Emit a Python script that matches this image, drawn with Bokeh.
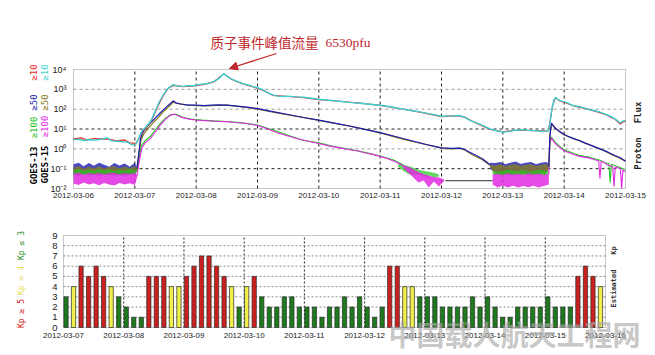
import math
from bokeh.plotting import figure
from bokeh.models import FixedTicker, Label, Arrow, NormalHead, Range1d, BoxAnnotation
from bokeh.layouts import column
from bokeh.embed import file_html
from bokeh.resources import INLINE

# ---------------- data ----------------
top_day_labels = ["2012-03-06", "2012-03-07", "2012-03-08", "2012-03-09", "2012-03-10",
                  "2012-03-11", "2012-03-12", "2012-03-13", "2012-03-14", "2012-03-15"]
bot_day_labels = ["2012-03-07", "2012-03-08", "2012-03-09", "2012-03-10", "2012-03-11",
                  "2012-03-12", "2012-03-13", "2012-03-14", "2012-03-15", "2012-03-16"]
flux_exponents = [-2, -1, 0, 1, 2, 3, 4]
flux_tick_labels = ["10⁻²", "10⁻¹", "10⁰", "10¹", "10²", "10³", "10⁴"]
flux_thresholds = [1, -1]          # darker dashed reference lines
flux_light_grid = [0, 2, 3]

# hours since 2012-03-06 00:00 UT, log10(pfu)
cyan_ge10 = [(0,0.45),(2,0.48),(4,0.42),(6,0.46),(8,0.44),(10,0.47),(12,0.5),(13,0.57),(15,0.4),(17,0.38),
             (19,0.36),(21,0.34),(23,0.2),(24.5,0.25),(25.3,0.45),(26,0.7),(27,0.95),(28,1.05),(29,1.2),
             (30.5,1.45),(32,1.9),(33.5,2.35),(35,2.7),(36.6,3.0),(38,3.15),(39,3.23),(41,3.16),(43,3.15),
             (45,3.18),(47,3.18),(49,3.24),(51,3.27),(53,3.3),(55,3.4),(57,3.55),(58.8,3.8),(60,3.66),
             (62,3.52),(64,3.4),(66,3.3),(68,3.23),(70,3.15),(72,3.08),(74,2.98),(76,2.82),(78,2.72),
             (80,2.66),(82,2.64),(84,2.66),(87,2.62),(90,2.6),(93,2.55),(96,2.5),(100,2.45),(104,2.4),
             (108,2.34),(112,2.3),(116,2.25),(120,2.2),(124,2.12),(128,2.03),(132,1.93),(136,1.85),
             (140,1.75),(144,1.64),(148,1.66),(151,1.68),(153,1.6),(155,1.45),(157,1.35),(160,1.18),
             (163,1.0),(166,0.9),(168,0.85),(170,0.87),(172,0.92),(174,0.95),(176,0.97),(178,0.93),
             (180,0.92),(182,0.9),(184,0.88),(185.8,0.9),(186.5,1.35),(187.2,2.0),(188,2.45),(188.6,2.6),
             (189.5,2.5),(190.5,2.42),(192,2.38),(193.5,2.3),(195,2.2),(196.5,2.16),(198,2.12),(200,2.05),
             (202,1.97),(204,1.92),(206,1.85),(208,1.75),(210,1.65),(212,1.5),(213,1.4),(214,1.3),
             (215,1.4),(216,1.42)]
red_ge10 = [(0,0.5),(3,0.55),(5,0.45),(8,0.52),(11,0.5),(14,0.48),(17,0.4),(20,0.45),(22,0.3),(24.5,0.28),
            (25.5,0.5),(27,0.9),(29,1.15),(31,1.55),(33,2.15),(35,2.65),(37,3.05),(39,3.2),(43,3.14),
            (47,3.17),(51,3.25),(55,3.38),(58.8,3.78),(62,3.5),(66,3.28),(70,3.14),(74,2.96),(78,2.7),
            (84,2.64),(90,2.58),(96,2.48),(104,2.4),(112,2.3),(120,2.19),(128,2.02),(136,1.84),(144,1.62),
            (150,1.67),(153,1.6),(157,1.33),(163,0.98),(168,0.86),(174,0.95),(180,0.92),(185.8,0.9),
            (186.6,1.5),(187.5,2.2),(188.6,2.58),(190.5,2.4),(193,2.3),(196,2.15),(200,2.04),(204,1.9),
            (208,1.74),(212,1.48),(214,1.25),(215,1.35),(216,1.4)]
blue_ge50 = [(24.8,-1.0),(25.5,-0.3),(26.2,0.5),(27,0.8),(28,1.0),(30,1.3),(32,1.55),(34,1.82),(36.6,2.14),
             (38,2.3),(39,2.42),(40,2.32),(42,2.26),(45,2.2),(48,2.2),(51,2.18),(54,2.2),(57,2.22),(60,2.2),
             (64,2.15),(68,2.1),(72,2.03),(78,1.88),(84,1.73),(90,1.58),(96,1.45),(102,1.3),(108,1.15),
             (114,0.98),(120,0.82),(126,0.62),(132,0.42),(138,0.22),(144,0.05),(148,0.02),(151,0.04),
             (152.5,0.0),(154.3,-0.12),(157,-0.3),(160,-0.5),(163,-0.8)]
blue_ge50_b = [(186,-0.9),(186.4,0.6),(187,1.3),(187.6,1.2),(188.5,1.05),(190,0.9),(192,0.72),(194,0.6),
               (196,0.5),(198,0.42),(200,0.3),(202,0.2),(204,0.1),(206,0.0),(208.7,-0.14),(210,-0.22),
               (212,-0.35),(214,-0.45),(215.3,-0.56),(216,-0.62)]
olive_ge50 = [(24.8,-1.1),(25.6,-0.2),(26.4,0.45),(27.5,0.75),(29,1.0),(31,1.3),(33,1.55),(35,1.85),(37,2.1),
              (39,2.35),(41,2.28),(44,2.22),(48,2.18),(52,2.17),(56,2.19),(60,2.2),(64,2.14),(68,2.08),
              (72,2.0),(80,1.8),(88,1.62),(96,1.43),(104,1.25),(112,1.04),(120,0.8),(128,0.52),(136,0.28),
              (144,0.03),(148,0.0),(151,0.03),(153,-0.05),(156,-0.3),(160,-0.55),(163,-0.82)]
olive_ge50_b = [(186,-0.9),(186.5,0.8),(187.2,1.25),(188,1.1),(190,0.88),(192,0.7),(195,0.55),(198,0.4),
                (201,0.25),(204,0.1),(207,-0.05),(210,-0.25),(213,-0.42),(216,-0.62)]
green_ge100 = [(24.8,-1.1),(25.5,-0.6),(26.5,0.15),(28,0.4),(30,0.62),(32,0.95),(34,1.28),(36,1.55),(38,1.72),
               (40,1.74),(43,1.58),(46,1.5),(50,1.45),(55,1.41),(60,1.38),(66,1.31),(72,1.2),(78,0.95),
               (84,0.68),(90,0.42),(96,0.3),(102,0.12),(108,-0.02),(114,-0.18),(120,-0.36),(125,-0.55),
               (129,-0.8)]
green_ge100_b = [(186,-1.0),(186.4,0.35),(187,0.6),(188,0.4),(190,0.15),(192,-0.05),(194,-0.15),(196,-0.25),
                 (198,-0.32),(200,-0.38),(202,-0.42),(204,-0.5),(206,-0.58),(208,-0.7),(209.5,-0.75),
                 (210,-1.7),(210.5,-0.78),(212,-0.85),(214,-0.95),(216,-1.05)]
magenta_ge100 = [(24.8,-1.4),(25.5,-0.8),(26.8,0.07),(28,0.3),(30,0.5),(32,0.85),(34,1.2),(36,1.5),(38,1.7),
                 (39.5,1.75),(42,1.6),(45,1.5),(48,1.45),(51,1.42),(54,1.4),(57,1.38),(60,1.37),(63,1.33),
                 (66,1.3),(69,1.25),(72,1.18),(76,1.0),(80,0.8),(84,0.65),(88,0.5),(92,0.38),(96,0.27),
                 (100,0.15),(104,0.05),(108,-0.05),(111,-0.1),(114,-0.2),(117,-0.28),(120,-0.38),(123,-0.5),
                 (126,-0.65),(129,-0.85),(131,-0.94),(135,-1.2),(140,-1.5)]
magenta_ge100_b = [(186,-1.3),(186.4,0.3),(187,0.55),(188,0.35),(189,0.2),(190,0.1),(192,-0.1),(194,-0.2),
                   (196,-0.3),(198,-0.38),(200,-0.42),(202,-0.47),(204,-0.55),(205.5,-0.6),(206,-1.5),
                   (206.5,-0.62),(208,-0.72),(208.7,-0.8),(210,-0.85),(211,-0.9),(211.5,-1.9),(212,-0.92),
                   (213,-0.95),(214,-1.0),(214.5,-2.0),(215,-1.05),(215.3,-1.1),(216,-1.15)]
flat_ge100 = [(145.5,-1.6),(164,-1.6)]

# background noise envelopes: (hour, low, high)
blue_bg = [[(0,-1.3,-0.78),(2,-1.35,-0.7),(4,-1.25,-0.88),(6,-1.32,-0.72),(8,-1.3,-0.85),(10,-1.36,-0.7),
            (12,-1.26,-0.8),(14,-1.33,-0.9),(16,-1.3,-0.72),(18,-1.28,-0.84),(20,-1.34,-0.74),
            (22,-1.3,-0.9),(24,-1.27,-0.7),(24.8,-1.1,-0.95)],
           [(163,-1.0,-0.7),(165,-1.2,-0.72),(167,-1.25,-0.66),(169,-1.22,-0.78),(171,-1.25,-0.7),
            (173,-1.2,-0.64),(175,-1.24,-0.76),(177,-1.25,-0.7),(179,-1.22,-0.66),(181,-1.25,-0.78),
            (183,-1.2,-0.7),(185,-1.22,-0.66),(186,-1.0,-0.75)]]
olive_bg = [[(0,-1.3,-0.95),(2,-1.33,-0.88),(4,-1.3,-1.0),(6,-1.28,-0.9),(8,-1.32,-0.98),(10,-1.3,-0.88),
             (12,-1.3,-0.99),(14,-1.33,-0.92),(16,-1.29,-0.88),(18,-1.3,-0.98),(20,-1.32,-0.9),
             (22,-1.3,-0.97),(24,-1.28,-0.88),(24.8,-1.1,-1.0)],
            [(163,-0.9,-0.8),(165,-1.3,-0.84),(167,-1.32,-0.76),(169,-1.3,-0.88),(171,-1.33,-0.8),
             (173,-1.3,-0.76),(175,-1.32,-0.86),(177,-1.3,-0.8),(179,-1.33,-0.76),(181,-1.3,-0.86),
             (183,-1.32,-0.8),(185,-1.3,-0.76),(186,-0.95,-0.85)]]
green_bg = [[(0,-1.32,-1.08),(2,-1.35,-1.02),(4,-1.3,-1.12),(6,-1.34,-1.04),(8,-1.3,-1.1),(10,-1.35,-1.02),
             (12,-1.32,-1.1),(14,-1.3,-1.03),(16,-1.34,-1.12),(18,-1.32,-1.04),(20,-1.35,-1.1),
             (22,-1.3,-1.02),(24,-1.32,-1.08),(24.8,-1.15,-1.1)],
            [(127,-0.9,-0.75),(129,-1.1,-0.8),(131,-1.25,-0.85),(133,-1.35,-0.95),(135,-1.3,-1.05),
             (137,-1.4,-1.1),(139,-1.35,-1.15),(141,-1.45,-1.2),(143,-1.4,-1.3)],
            [(164,-1.3,-1.1),(167,-1.32,-1.14),(170,-1.3,-1.06),(173,-1.34,-1.12),(176,-1.3,-1.08),
             (179,-1.33,-1.14),(182,-1.3,-1.06),(185,-1.32,-1.12),(186,-1.2,-1.12)]]
magenta_bg = [[(0,-1.75,-1.25),(2,-1.82,-1.2),(4,-1.7,-1.3),(6,-1.8,-1.22),(8,-1.74,-1.27),(10,-1.84,-1.2),
               (12,-1.72,-1.28),(14,-1.8,-1.22),(16,-1.85,-1.2),(18,-1.72,-1.28),(20,-1.8,-1.22),
               (22,-1.74,-1.27),(24,-1.82,-1.2),(24.8,-1.5,-1.32)],
              [(129,-0.95,-0.85),(131,-1.2,-0.95),(133,-1.45,-1.08),(135,-1.7,-1.2),(137,-1.6,-1.3),
               (139,-1.95,-1.35),(141,-1.65,-1.42),(143,-1.9,-1.45),(145,-1.62,-1.55)],
              [(164,-1.8,-1.3),(166,-1.95,-1.25),(168,-1.85,-1.32),(170,-1.95,-1.22),(172,-1.86,-1.3),
               (174,-1.95,-1.24),(176,-1.88,-1.32),(178,-1.94,-1.22),(180,-1.86,-1.3),(182,-1.95,-1.24),
               (184,-1.88,-1.32),(186,-1.8,-1.25)]]

# estimated 3-hour Kp, starting 2012-03-07 00 UT
kp_start_hours = list(range(0, 216, 3))
kp_values = [3, 4, 6, 5, 6, 5, 4, 3,
             2, 1, 1, 5, 5, 5, 4, 4,
             5, 6, 7, 7, 6, 5, 4, 2,
             4, 5, 3, 2, 2, 3, 3, 2,
             2, 2, 1, 2, 2, 3, 2, 3,
             2, 1, 2, 6, 6, 4, 4, 3,
             3, 3, 2, 2, 2, 2, 3, 2,
             3, 2, 1, 1, 2, 2, 2, 2,
             3, 2, 2, 2, 5, 6, 5, 4]
kp_ticks = list(range(0, 10))

# ---------------- styling / geometry ----------------
RED, CYAN, BLUE, OLIVE = "#e8282a", "#3ccfcf", "#1c1cb0", "#8a7e22"
GREEN, MAGENTA = "#22c422", "#e22ae2"
DARKRED = "#c0272d"
KP_GREEN, KP_YELLOW, KP_RED = "#1d7a1d", "#f0ef4a", "#cc2020"
W = 650
TOP_H, BOT_H = 208, 145
BOT_Y0 = TOP_H

# top plot box in page px: x 73..625 (0..216 h), y 69..188 (4..-2)
def top_xy(px, py):
    return (px - 73) * 216 / 552, 4 - (py - 69) * 6 / 119

# bottom plot box in page px: x 63..605 (0..216 h), y 235..327 (9..0)
def bot_xy(px, py):
    return (px - 63) * 216 / 542, (327 - py) * 9 / 92

def base_fig(h, xr, yr):
    p = figure(width=W, height=h, output_backend="svg", toolbar_location=None,
               x_range=Range1d(*xr), y_range=Range1d(*yr),
               min_border=0, min_border_left=0, min_border_right=0,
               min_border_top=0, min_border_bottom=0)
    p.outline_line_color = None
    p.background_fill_color = "white"
    p.border_fill_color = "white"
    p.xgrid.visible = False
    p.ygrid.visible = False
    for ax in p.axis:
        ax.axis_line_color = None
        ax.major_tick_line_color = None
        ax.minor_tick_line_color = None
        ax.major_tick_out = 0
        ax.major_tick_in = 0
        ax.major_label_text_font = "Liberation Sans"
        ax.major_label_text_color = "#222222"
    return p

# ---------------- top: proton flux ----------------
top = base_fig(TOP_H, (top_xy(0, 0)[0], top_xy(W, 0)[0]), (top_xy(0, TOP_H)[1], top_xy(0, 0)[1]))
top.xaxis.fixed_location = -2
top.yaxis.fixed_location = 0
top.xaxis.ticker = FixedTicker(ticks=[24 * i for i in range(len(top_day_labels))])
top.xaxis.major_label_overrides = {24 * i: s for i, s in enumerate(top_day_labels)}
top.yaxis.ticker = FixedTicker(ticks=flux_exponents)
top.yaxis.major_label_overrides = dict(zip(flux_exponents, flux_tick_labels))
top.xaxis.major_label_text_font_size = "8px"
top.xaxis.major_label_standoff = 4
top.yaxis.major_label_text_font_size = "9px"
top.yaxis.major_label_standoff = 7

day_lines = [24 * i for i in range(1, 9)]
top.segment(x0=day_lines, y0=[-2] * 8, x1=day_lines, y1=[4] * 8,
            line_color="#222222", line_dash="3 3", line_width=1)
top.segment(x0=[0] * len(flux_light_grid), y0=flux_light_grid, x1=[216] * len(flux_light_grid),
            y1=flux_light_grid, line_color="#9a9a9a", line_dash="3 3", line_width=1)
top.segment(x0=[0] * len(flux_thresholds), y0=flux_thresholds, x1=[216] * len(flux_thresholds),
            y1=flux_thresholds, line_color="#222222", line_dash="3 3", line_width=1)

def unzip(pts):
    return [p[0] for p in pts], [p[1] for p in pts]

def band(p, env, color, alpha=0.8):
    for seg in env:
        p.varea(x=[s[0] for s in seg], y1=[s[1] for s in seg], y2=[s[2] for s in seg],
                fill_color=color, fill_alpha=alpha)

band(top, blue_bg, BLUE)
band(top, olive_bg, OLIVE)
band(top, green_bg, GREEN, 0.7)
band(top, magenta_bg, MAGENTA, 0.85)

def ln(p, pts, color, w=1.1):
    x, y = unzip(pts)
    p.line(x, y, line_color=color, line_width=w)

ln(top, flat_ge100, "#5a5a5a", 1.2)
ln(top, green_ge100, GREEN); ln(top, green_ge100_b, GREEN)
ln(top, magenta_ge100, MAGENTA); ln(top, magenta_ge100_b, MAGENTA)
ln(top, olive_ge50, OLIVE, 1.3); ln(top, olive_ge50_b, OLIVE, 1.3)
ln(top, blue_ge50, BLUE, 1.2); ln(top, blue_ge50_b, BLUE, 1.2)
ln(top, red_ge10, RED, 1.2)
ln(top, cyan_ge10, CYAN, 1.4)

top.add_layout(BoxAnnotation(left=0, right=216, bottom=-2, top=4, fill_color=None,
                             line_color="#444444", line_width=1))

# title annotation + arrow
x0, y0 = top_xy(210, 41)
top.add_layout(Label(x=x0, y=y0, text="质子事件峰值流量", text_font="Noto Sans CJK SC",
                     text_font_size="13.5px", text_color=DARKRED, text_baseline="middle"))
x0, y0 = top_xy(325, 42)
top.add_layout(Label(x=x0, y=y0, text="6530pfu", text_font="Liberation Serif",
                     text_font_size="13.5px", text_color=DARKRED, text_baseline="middle"))
xs, ys = top_xy(276, 53)
xe, ye = top_xy(229, 68)
top.add_layout(Arrow(x_start=xs, y_start=ys, x_end=xe, y_end=ye, line_color=DARKRED, line_width=1.3,
                     end=NormalHead(size=8, fill_color=DARKRED, line_color=DARKRED)))

# left rotated legend
legend_top = [(33, "GOES-13", "black", 165), (33, "≥100", GREEN, 127), (33, "≥50", BLUE, 102),
              (33, "≥10", RED, 72),
              (44, "GOES-15", "black", 164), (44, "≥100", MAGENTA, 126), (44, "≥50", OLIVE, 102),
              (44, "≥10", CYAN, 72)]
for px, txt, col, py in legend_top:
    x0, y0 = top_xy(px, py)
    top.add_layout(Label(x=x0, y=y0, text=txt, angle=math.pi / 2, text_color=col,
                         text_font="DejaVu Sans Mono", text_font_size="9px",
                         text_font_style="bold" if txt.startswith("GOES") else "normal",
                         text_align="center", text_baseline="middle"))
for txt, py in [("Flux", 112), ("Proton", 153)]:
    x0, y0 = top_xy(637, py)
    top.add_layout(Label(x=x0, y=y0, text=txt, angle=math.pi / 2, text_color="#222222",
                         text_font="DejaVu Sans Mono", text_font_size="9px", text_font_style="bold",
                         text_align="center", text_baseline="middle"))

# ---------------- bottom: Kp ----------------
bot = base_fig(BOT_H, (bot_xy(0, 0)[0], bot_xy(W, 0)[0]),
               (bot_xy(0, BOT_Y0 + BOT_H)[1], bot_xy(0, BOT_Y0)[1]))
bot.xaxis.fixed_location = 0
bot.yaxis.fixed_location = 0
bot.xaxis.ticker = FixedTicker(ticks=[24 * i for i in range(len(bot_day_labels))])
bot.xaxis.major_label_overrides = {24 * i: s for i, s in enumerate(bot_day_labels)}
bot.yaxis.ticker = FixedTicker(ticks=kp_ticks)
bot.xaxis.major_label_text_font_size = "8px"
bot.xaxis.major_label_standoff = 5
bot.yaxis.major_label_text_font_size = "9.5px"
bot.yaxis.major_label_standoff = 6

bot.segment(x0=day_lines, y0=[0] * 8, x1=day_lines, y1=[9] * 8,
            line_color="#222222", line_dash="2 2", line_width=1)
inner_kp = kp_ticks[1:-1]
bot.segment(x0=[0] * len(inner_kp), y0=inner_kp, x1=[216] * len(inner_kp), y1=inner_kp,
            line_color="#8a8a8a", line_dash="2 2", line_width=1)

kp_colors = [KP_RED if k >= 5 else (KP_YELLOW if k == 4 else KP_GREEN) for k in kp_values]
bot.vbar(x=[h + 1.0 for h in kp_start_hours], width=1.7, bottom=0, top=kp_values,
         fill_color=kp_colors, line_color="#2a2a2a", line_width=0.7)
bot.add_layout(BoxAnnotation(left=0, right=216, bottom=0, top=9, fill_color=None,
                             line_color="#444444", line_width=1))

for txt, col, py in [("Kp ≤ 3", "#2f8f2f", 245), ("Kp = 4", "#e6dc5a", 280), ("Kp ≥ 5", "#d02020", 313)]:
    x0, y0 = bot_xy(21, py)
    bot.add_layout(Label(x=x0, y=y0, text=txt, angle=math.pi / 2, text_color=col,
                         text_font="DejaVu Sans Mono", text_font_size="8px",
                         text_align="center", text_baseline="middle"))
for txt, py in [("Kp", 250), ("Estimated", 288)]:
    x0, y0 = bot_xy(613, py)
    bot.add_layout(Label(x=x0, y=y0, text=txt, angle=math.pi / 2, text_color="#333333",
                         text_font="DejaVu Sans Mono", text_font_size="7px", text_font_style="bold",
                         text_align="center", text_baseline="middle"))

x0, y0 = bot_xy(388, 333)
bot.add_layout(Label(x=x0, y=y0, text="中国载人航天工程网", text_font="Noto Sans CJK SC",
                     text_font_size="28px", text_font_style="bold", text_color="#a8a8a8",
                     text_alpha=0.65, text_baseline="middle"))

layout = column(top, bot, spacing=0)
open("out.html", "w").write(file_html(layout, INLINE))
